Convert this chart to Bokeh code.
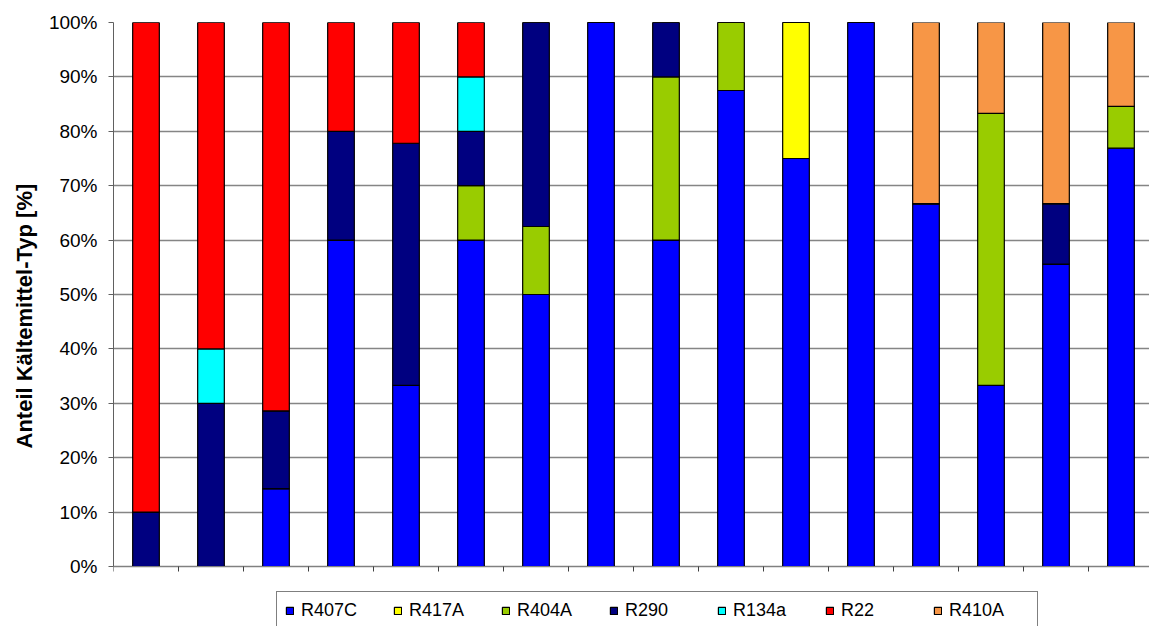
from bokeh.plotting import figure
from bokeh.models import (ColumnDataSource, Range1d, FixedTicker, PrintfTickFormatter,
                          Legend, LegendItem, Title)
from bokeh.embed import file_html
from bokeh.resources import INLINE

# Refrigerant share per installation (percent), stacked bottom to top
series = ["R407C", "R417A", "R404A", "R290", "R134a", "R22", "R410A"]
colors = ["#0000FF", "#FFFF00", "#99CC00", "#000080", "#00FFFF", "#FF0000", "#F79646"]

r407c = [0, 0, 14.3, 60, 33.3, 60, 50, 100, 60, 87.5, 75, 100, 66.7, 33.3, 55.6, 76.9]
r417a = [0, 0, 0, 0, 0, 0, 0, 0, 0, 0, 25, 0, 0, 0, 0, 0]
r404a = [0, 0, 0, 0, 0, 10, 12.5, 0, 30, 12.5, 0, 0, 0, 50, 0, 7.7]
r290 = [10, 30, 14.3, 20, 44.5, 10, 37.5, 0, 10, 0, 0, 0, 0, 0, 11.1, 0]
r134a = [0, 10, 0, 0, 0, 10, 0, 0, 0, 0, 0, 0, 0, 0, 0, 0]
r22 = [90, 60, 71.4, 20, 22.2, 10, 0, 0, 0, 0, 0, 0, 0, 0, 0, 0]
r410a = [0, 0, 0, 0, 0, 0, 0, 0, 0, 0, 0, 0, 33.3, 16.7, 33.3, 15.4]

y_ticks = [0, 10, 20, 30, 40, 50, 60, 70, 80, 90, 100]
y_title = "Anteil Kältemittel-Typ [%]"

n = len(r407c)
x = [i + 0.5 for i in range(n)]
source = ColumnDataSource(dict(x=x, R407C=r407c, R417A=r417a, R404A=r404a,
                               R290=r290, R134a=r134a, R22=r22, R410A=r410a))

FONT = "Liberation Sans"
GRID = "#858585"

# The frame runs to the bottom of the canvas so the legend strip under the
# bars lives inside it; the 0..100 scale occupies the upper 544 px.
W, H = 1149, 626
LEFT, TOP = 113, 22
BASE = 566                      # pixel row of 0 %
px_per_unit = (BASE - TOP) / 100.0
y_min = -(H - BASE) / px_per_unit

p = figure(width=W, height=H, output_backend="svg", toolbar_location=None,
           x_range=Range1d(0, (W - LEFT) / 65.0), y_range=Range1d(y_min, 100),
           min_border_left=LEFT, min_border_right=0, min_border_top=TOP,
           min_border_bottom=0)
p.outline_line_color = None
p.background_fill_color = "white"
p.border_fill_color = "white"

renderers = p.vbar_stack(series, x="x", width=0.41, source=source,
                         fill_color=colors, line_color="black", line_width=1.2)

# y axis
yax = p.yaxis[0]
yax.ticker = FixedTicker(ticks=y_ticks)
yax.bounds = (0, 100)
yax.formatter = PrintfTickFormatter(format="%d%%")
yax.major_label_text_font = FONT
yax.major_label_text_font_size = "19px"
yax.major_label_text_color = "black"
yax.major_label_standoff = 11
yax.major_tick_in = 0
yax.major_tick_out = 5
yax.minor_tick_out = 0
yax.minor_tick_in = 0
yax.axis_line_color = "#606060"
yax.major_tick_line_color = "#606060"

# y title: starts 118 px above the 0 % line (offset measured from frame bottom)
title_offset = (H - BASE) + 118
p.add_layout(Title(text=y_title, align="left", offset=title_offset,
                   text_font=FONT, text_font_style="bold",
                   text_font_size="22px", text_color="black",
                   standoff=17), "left")

# x axis at 0 %: category separators only, no labels
xax = p.xaxis[0]
xax.fixed_location = 0
xax.ticker = FixedTicker(ticks=list(range(n + 1)))
xax.major_label_overrides = {i: "" for i in range(n + 1)}
xax.major_label_text_color = None
xax.major_tick_in = 0
xax.major_tick_out = 5
xax.minor_tick_out = 0
xax.minor_tick_in = 0
xax.axis_line_color = "#808080"
xax.major_tick_line_color = "#404040"

p.xgrid.grid_line_color = None
p.ygrid.ticker = FixedTicker(ticks=y_ticks)
p.ygrid.grid_line_color = GRID
p.ygrid.grid_line_width = 1.3

items = [LegendItem(label=s, renderers=[r]) for s, r in zip(series, renderers)]
legend = Legend(items=items, orientation="horizontal", location=(163, -4),
                label_text_font=FONT, label_text_font_size="18px",
                label_text_color="black", label_height=20, label_width=80,
                label_standoff=7, glyph_width=9, glyph_height=9, spacing=12,
                padding=8, margin=0, border_line_color="black",
                border_line_width=1, background_fill_color="white",
                background_fill_alpha=1.0)
p.add_layout(legend, "center")

open("out.html", "w").write(file_html(p, INLINE))
